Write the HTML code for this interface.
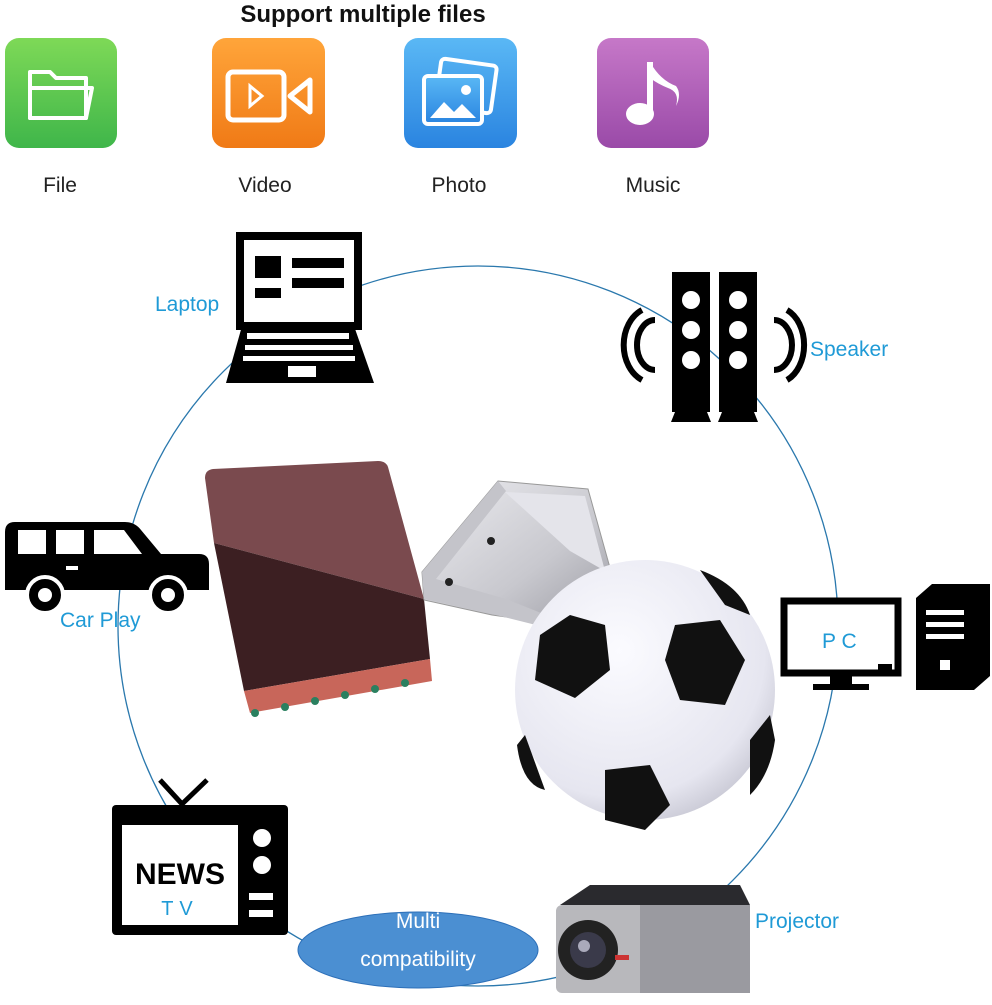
<!DOCTYPE html>
<html><head><meta charset="utf-8"><style>
body{margin:0;width:992px;height:1000px;background:#fff;overflow:hidden;font-family:"Liberation Sans",sans-serif}
</style></head><body>
<svg width="992" height="1000" viewBox="0 0 992 1000" xmlns="http://www.w3.org/2000/svg" font-family="Liberation Sans, sans-serif">
<defs>
<linearGradient id="g1" x1="0" y1="0" x2="0" y2="1"><stop offset="0" stop-color="#7ed957"/><stop offset="1" stop-color="#3fb64a"/></linearGradient>
<linearGradient id="g2" x1="0" y1="0" x2="0" y2="1"><stop offset="0" stop-color="#ffa53a"/><stop offset="1" stop-color="#f07a16"/></linearGradient>
<linearGradient id="g3" x1="0" y1="0" x2="0" y2="1"><stop offset="0" stop-color="#5ab8f5"/><stop offset="1" stop-color="#2a84e0"/></linearGradient>
<linearGradient id="g4" x1="0" y1="0" x2="0" y2="1"><stop offset="0" stop-color="#c678c8"/><stop offset="1" stop-color="#9a4aa8"/></linearGradient>
<linearGradient id="met" x1="0" y1="0" x2="1" y2="1"><stop offset="0" stop-color="#ececf0"/><stop offset="0.6" stop-color="#c8c8ce"/><stop offset="1" stop-color="#9a9aa2"/></linearGradient>
<radialGradient id="ball" cx="0.4" cy="0.35" r="0.7"><stop offset="0" stop-color="#fbfbff"/><stop offset="0.8" stop-color="#e6e6f0"/><stop offset="1" stop-color="#c8c8d4"/></radialGradient>
</defs>
<text x="363" y="22" font-size="24" font-weight="bold" text-anchor="middle" fill="#111">Support multiple files</text>
<rect x="5" y="38" width="112" height="110" rx="14" fill="url(#g1)"/>
<path d="M30 72 h20 l6 6 h30 v40 h-56z" fill="none" stroke="#fff" stroke-width="4" stroke-linejoin="round"/>
<path d="M30 88 h62 l-6 30 h-56z" fill="none" stroke="#fff" stroke-width="4" stroke-linejoin="round"/>
<rect x="212" y="38" width="113" height="110" rx="14" fill="url(#g2)"/>
<rect x="228" y="72" width="56" height="48" rx="5" fill="none" stroke="#fff" stroke-width="5"/>
<path d="M250 86 l12 10 l-12 10z" fill="none" stroke="#fff" stroke-width="3"/>
<path d="M290 96 l20 -16 v32z" fill="none" stroke="#fff" stroke-width="5" stroke-linejoin="round"/>
<rect x="404" y="38" width="113" height="110" rx="14" fill="url(#g3)"/>
<rect x="438" y="62" width="56" height="48" rx="4" fill="none" stroke="#fff" stroke-width="4" transform="rotate(8 466 86)"/>
<rect x="424" y="76" width="58" height="48" rx="4" fill="url(#g3)" stroke="#fff" stroke-width="4"/>
<path d="M430 118 l14 -16 l10 10 l8 -8 l14 14z" fill="#fff"/><circle cx="466" cy="90" r="5" fill="#fff"/>
<rect x="597" y="38" width="112" height="110" rx="14" fill="url(#g4)"/>
<path d="M650 62 v50" stroke="#fff" stroke-width="6"/><ellipse cx="640" cy="114" rx="14" ry="11" fill="#fff"/>
<path d="M650 62 q10 18 26 24 q6 8 0 20 q4 -14 -8 -18 q-10 -4 -18 -10z" fill="#fff"/>
<g font-size="21" fill="#222" text-anchor="middle"><text x="60" y="192">File</text><text x="265" y="192">Video</text><text x="459" y="192">Photo</text><text x="653" y="192">Music</text></g>
<circle cx="478" cy="626" r="360" fill="none" stroke="#2a78ad" stroke-width="1.3"/>
<!-- laptop -->
<rect x="240" y="236" width="118" height="90" fill="#fff" stroke="#000" stroke-width="8"/>
<rect x="255" y="256" width="26" height="22" fill="#000"/><rect x="255" y="288" width="26" height="10" fill="#000"/>
<rect x="292" y="258" width="52" height="10" fill="#000"/><rect x="292" y="278" width="52" height="10" fill="#000"/>
<path d="M242 326 h112 l20 57 h-148z" fill="#000"/>
<g fill="#fff"><rect x="247" y="333" width="102" height="6"/><rect x="245" y="345" width="108" height="5"/><rect x="243" y="356" width="112" height="5"/><rect x="288" y="366" width="28" height="11"/></g>
<text x="155" y="311" font-size="21" fill="#1f9ad6">Laptop</text>
<!-- speakers -->
<rect x="672" y="272" width="38" height="140" fill="#000"/><rect x="719" y="272" width="38" height="140" fill="#000"/>
<path d="M675 412 l-4 10 h40 l-4 -10z M722 412 l-4 10 h40 l-4 -10z" fill="#000"/>
<g fill="#fff"><circle cx="691" cy="300" r="9"/><circle cx="691" cy="330" r="9"/><circle cx="691" cy="360" r="9"/><circle cx="738" cy="300" r="9"/><circle cx="738" cy="330" r="9"/><circle cx="738" cy="360" r="9"/></g>
<g fill="none" stroke="#000" stroke-width="6"><path d="M655 320 a18 25 0 0 0 0 50"/><path d="M642 310 a30 38 0 0 0 0 70"/><path d="M774 320 a18 25 0 0 1 0 50"/><path d="M787 310 a28 38 0 0 1 0 70"/></g>
<text x="810" y="356" font-size="21" fill="#1f9ad6">Speaker</text>
<!-- car -->
<path d="M5 590 v-58 q0 -10 10 -10 h110 q10 0 16 8 l20 24 h38 q10 0 10 10 v26z" fill="#000"/>
<g fill="#fff"><rect x="18" y="530" width="28" height="24"/><rect x="56" y="530" width="28" height="24"/><path d="M94 530 h30 l18 24 h-48z"/><rect x="66" y="566" width="12" height="4"/></g>
<circle cx="45" cy="595" r="18" fill="#000" stroke="#fff" stroke-width="4"/><circle cx="168" cy="595" r="18" fill="#000" stroke="#fff" stroke-width="4"/>
<circle cx="45" cy="595" r="7" fill="#fff"/><circle cx="168" cy="595" r="7" fill="#fff"/>
<text x="60" y="627" font-size="21" fill="#1f9ad6">Car Play</text>
<!-- PC -->
<rect x="784" y="601" width="114" height="72" fill="#fff" stroke="#000" stroke-width="7"/>
<rect x="878" y="664" width="14" height="6" fill="#000"/>
<rect x="830" y="676" width="22" height="8" fill="#000"/><rect x="813" y="684" width="56" height="6" fill="#000"/>
<rect x="916" y="598" width="58" height="92" fill="#000"/><path d="M916 598 l16 -14 h58 l-16 14z M974 598 l16 -14 v92 l-16 14z" fill="#000"/>
<g fill="#fff"><rect x="926" y="610" width="38" height="5"/><rect x="926" y="622" width="38" height="5"/><rect x="926" y="634" width="38" height="5"/><rect x="940" y="660" width="10" height="10"/></g>
<text x="822" y="648" font-size="21" fill="#1f9ad6">P C</text>
<!-- TV -->
<path d="M160 780 l22 24 l25 -24" stroke="#000" stroke-width="5" fill="none"/>
<rect x="112" y="805" width="176" height="130" rx="4" fill="#000"/>
<rect x="122" y="825" width="116" height="100" fill="#fff"/>
<circle cx="262" cy="838" r="9" fill="#fff"/><circle cx="262" cy="865" r="9" fill="#fff"/>
<rect x="249" y="893" width="24" height="7" fill="#fff"/><rect x="249" y="910" width="24" height="7" fill="#fff"/>
<text x="180" y="884" font-size="30" font-weight="bold" text-anchor="middle" fill="#000">NEWS</text>
<text x="180" y="915" font-size="20" text-anchor="middle" fill="#1f9ad6" letter-spacing="6">TV</text>
<ellipse cx="418" cy="950" rx="120" ry="38" fill="#4b8fd2" stroke="#2c6fb8"/>
<text x="418" y="928" font-size="21" fill="#fff" text-anchor="middle">Multi</text>
<text x="418" y="966" font-size="21" fill="#fff" text-anchor="middle">compatibility</text>
<!-- projector -->
<path d="M560 905 l30 -20 h150 l10 20z" fill="#2a2a2e"/>
<rect x="556" y="905" width="194" height="88" rx="6" fill="#b8b8bc"/>
<rect x="640" y="905" width="110" height="88" fill="#9a9aa0"/>
<circle cx="588" cy="950" r="30" fill="#222"/><circle cx="588" cy="950" r="18" fill="#3a3a4a"/><circle cx="584" cy="946" r="6" fill="#aab"/>
<rect x="615" y="955" width="14" height="5" fill="#c33"/>
<text x="755" y="928" font-size="21" fill="#1f9ad6">Projector</text>
<!-- cube -->
<path d="M205 478 q0 -8 8 -9 l165 -8 q8 0 10 6 l36 132 l-210 -56z" fill="#7a4a4e"/>
<path d="M214 543 l210 56 l6 60 l-186 32z" fill="#3c1f22"/>
<path d="M244 691 l186 -32 l2 22 l-182 32z" fill="#c8665a"/>
<g fill="#2a8060"><circle cx="255" cy="713" r="4"/><circle cx="285" cy="707" r="4"/><circle cx="315" cy="701" r="4"/><circle cx="345" cy="695" r="4"/><circle cx="375" cy="689" r="4"/><circle cx="405" cy="683" r="4"/></g>
<!-- usb plug -->
<path d="M422 572 l76 -91 l90 8 l24 86 l-50 50 l-70 -10 l-68 -15z" fill="url(#met)" stroke="#999"/>
<path d="M422 572 l76 -91 l8 10 l-70 88 l70 20 l50 20 l-4 10 l-60 -15 l-68 -15z" fill="#c4c4ca"/>
<path d="M505 492 l80 4 l20 75 l-35 -20z" fill="#e4e4ea"/>
<circle cx="449" cy="582" r="4" fill="#222"/><circle cx="491" cy="541" r="4" fill="#222"/>
<!-- ball -->
<circle cx="645" cy="690" r="130" fill="url(#ball)"/>
<g fill="#111">
<path d="M570 615 l35 10 l5 45 l-35 28 l-40 -18 l5 -45z"/>
<path d="M675 625 l45 -5 l25 40 l-20 45 l-45 -5 l-15 -40z"/>
<path d="M545 790 l-20 -55 l-8 10 q5 40 28 45z"/>
<path d="M605 770 l45 -5 l20 40 l-25 25 l-40 -10z"/>
<path d="M750 740 l20 -25 l5 25 q-5 35 -25 55z"/>
<path d="M700 570 q40 15 50 45 l-25 -10z"/>
</g>
</svg>
</body></html>
